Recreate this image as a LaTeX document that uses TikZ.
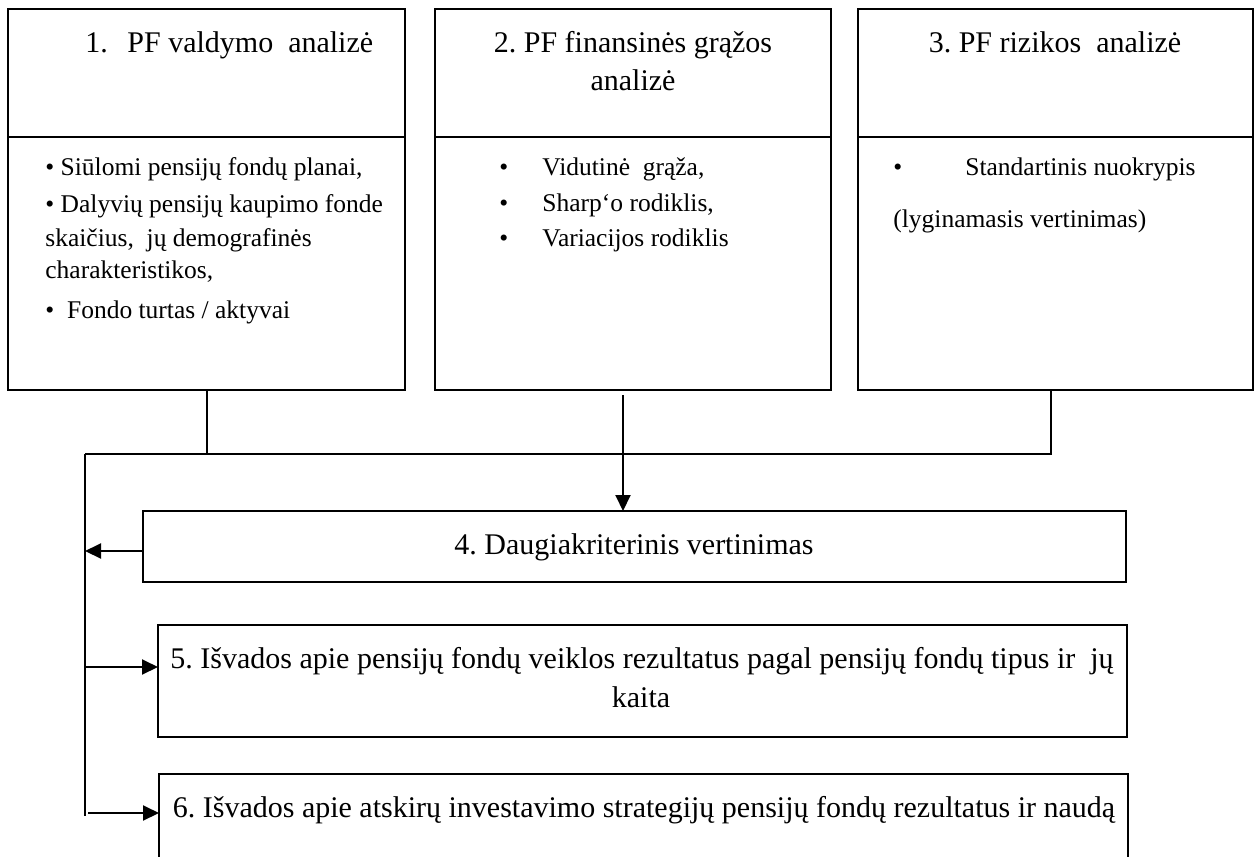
\documentclass[tikz,border=0pt]{standalone}
\usepackage{fontspec}
\setmainfont{Liberation Serif}
\usetikzlibrary{arrows.meta}
\frenchspacing
\begin{document}
\begin{tikzpicture}[x=0.5pt,y=-0.5pt,
  boxst/.style={draw, line width=1pt, inner sep=0pt, outer sep=0pt},
  ttl/.style={font=\fontsize{15}{18}\selectfont, inner sep=0pt, anchor=base},
  txt/.style={font=\fontsize{12.75}{15}\selectfont, inner sep=0pt, anchor=base west},
  wire/.style={line width=1pt},
  arr/.style={line width=1pt, -{Triangle[length=8pt,width=7.5pt]}}]
\useasboundingbox (0,0) rectangle (1259,857);
\clip (0,0) rectangle (1259,857);

% top boxes
\node[boxst, minimum width=198.5pt, minimum height=64pt] (b1t) at (206.5,73) {};
\node[boxst, minimum width=198.5pt, minimum height=126.5pt] (b1b) at (206.5,263.5) {};
\node[boxst, minimum width=198pt, minimum height=64pt] (b2t) at (633,73) {};
\node[boxst, minimum width=198pt, minimum height=126.5pt] (b2b) at (633,263.5) {};
\node[boxst, minimum width=197.5pt, minimum height=64pt] (b3t) at (1055.5,73) {};
\node[boxst, minimum width=197.5pt, minimum height=126.5pt] (b3b) at (1055.5,263.5) {};

% lower boxes
\node[boxst, minimum width=491.5pt, minimum height=35.5pt] (b4) at (634.5,546.5) {};
\node[boxst, minimum width=484.5pt, minimum height=56pt] (b5) at (642.5,681) {};
\node[boxst, minimum width=484.5pt, minimum height=53pt] (b6) at (643.5,827) {};

% titles
\node[ttl, anchor=base west] (t1) at (85,52) {1.\hspace{9.75pt}PF valdymo\ \ analizė};
\node[ttl] (t2a) at (633,52) {2. PF finansinės grąžos};
\node[ttl] (t2b) at (633,90) {analizė};
\node[ttl] (t3) at (1055,52) {3. PF rizikos\ \ analizė};

% box 1 body
\node[txt] (l1a) at (45,175) {• Siūlomi pensijų fondų planai,};
\node[txt] (l1b) at (45,212) {• Dalyvių pensijų kaupimo fonde};
\node[txt] (l1c) at (45,246) {skaičius,\ \ jų demografinės};
\node[txt] (l1d) at (45,278) {charakteristikos,};
\node[txt] (l1e) at (45,318) {•\ \ Fondo turtas / aktyvai};

% box 2 body
\node[txt] (l2a) at (499,175) {•};
\node[txt] (l2at) at (542,175) {Vidutinė\ \ grąža,};
\node[txt] (l2b) at (499,211) {•};
\node[txt] (l2bt) at (542,211) {Sharp‘o rodiklis,};
\node[txt] (l2c) at (499,246) {•};
\node[txt] (l2ct) at (542,246) {Variacijos rodiklis};

% box 3 body
\node[txt] (l3a) at (893,175) {•};
\node[txt] (l3at) at (965,175) {Standartinis nuokrypis};
\node[txt] (l3b) at (893,227) {(lyginamasis vertinimas)};

% lower texts
\node[ttl] (t4) at (634,554) {4. Daugiakriterinis vertinimas};
\node[ttl] (t5a) at (642,668) {5. Išvados apie pensijų fondų veiklos rezultatus pagal pensijų fondų tipus ir\ \ jų};
\node[ttl] (t5b) at (641,707) {kaita};
\node[ttl] (t6) at (644,817) {6. Išvados apie atskirų investavimo strategijų pensijų fondų rezultatus ir naudą};

% connectors
\coordinate (tl) at (85,454);
\coordinate (bl) at (85,816);
\coordinate (j5) at (85,667);
\coordinate (j6) at (88,813);
\coordinate (a2) at (623,395);
\draw[wire] (b1b.south) |- (tl);
\draw[wire] ([xshift=-2.5pt]b3b.south) |- (tl);
\draw[wire] (tl) -- (bl);
\draw[arr] (a2) -- (a2 |- b4.north);
\draw[arr] ([yshift=-2.25pt]b4.west) -- ([yshift=-2.25pt]b4.west -| tl);
\draw[arr] (j5) -- (j5 -| b5.west);
\draw[arr] (j6) -- (j6 -| b6.west);
\end{tikzpicture}
\end{document}
